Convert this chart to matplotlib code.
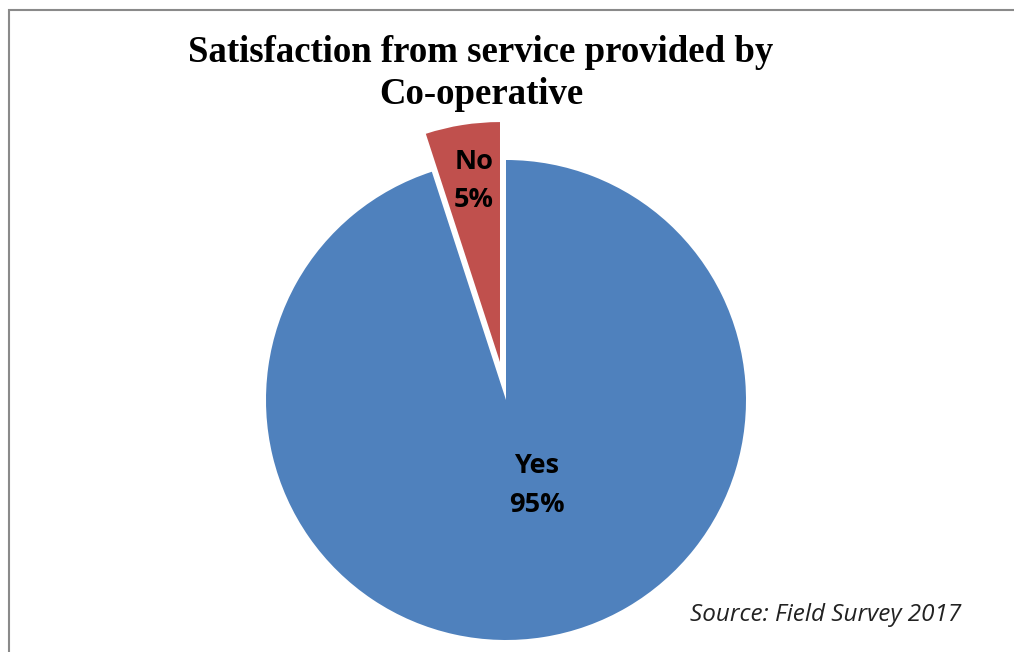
import matplotlib.pyplot as plt
from matplotlib.patches import Rectangle

# Survey answers
answers = ['No', 'Yes']
shares = [5, 95]
colors = ['#C0504D', '#4F81BD']
explode = [0.16, 0]
# label anchor points in pie units (radius = 1)
label_pos = [(-0.133, 0.913), (0.129, -0.357)]

W, H = 1014, 652
fig = plt.figure(figsize=(W / 100, H / 100), dpi=100)

# pie axes: centre at (506, 400) px, radius 240 px
R = 240
half = 300
cx, cy = 506, H - 400
ax = fig.add_axes([(cx - half) / W, (cy - half) / H, 2 * half / W, 2 * half / H])
ax.pie(shares, colors=colors, explode=explode, startangle=90,
       counterclock=True, radius=1, wedgeprops=dict(linewidth=0))
lim = half / R
ax.set_xlim(-lim, lim)
ax.set_ylim(-lim, lim)
ax.set_aspect('equal')
ax.axis('off')

for name, val, (x, y) in zip(answers, shares, label_pos):
    ax.text(x, y, f'{name}\n{val}%', ha='center', va='center',
            fontsize=19.5, fontweight='bold', family='Open Sans',
            linespacing=1.62, color='black')

# chart frame
fig.patches.append(Rectangle((9 / W, -0.2), 1.3, (H - 10) / H + 0.2,
                             transform=fig.transFigure, fill=False,
                             edgecolor='#8a8a8a', linewidth=1.5))

fig.text(481 / W, 1 - 52 / H, 'Satisfaction from service provided by',
         ha='center', va='center', fontsize=26.5, fontweight='bold',
         family='Liberation Serif')
fig.text(481 / W, 1 - 95 / H, 'Co-operative',
         ha='center', va='center', fontsize=26.5, fontweight='bold',
         family='Liberation Serif')

fig.text(690 / W, 1 - 615 / H, 'Source: Field Survey 2017', ha='left',
         va='center', fontsize=17.5, style='italic', family='Open Sans',
         color='#222222')

fig.savefig('out.png', dpi=100)
